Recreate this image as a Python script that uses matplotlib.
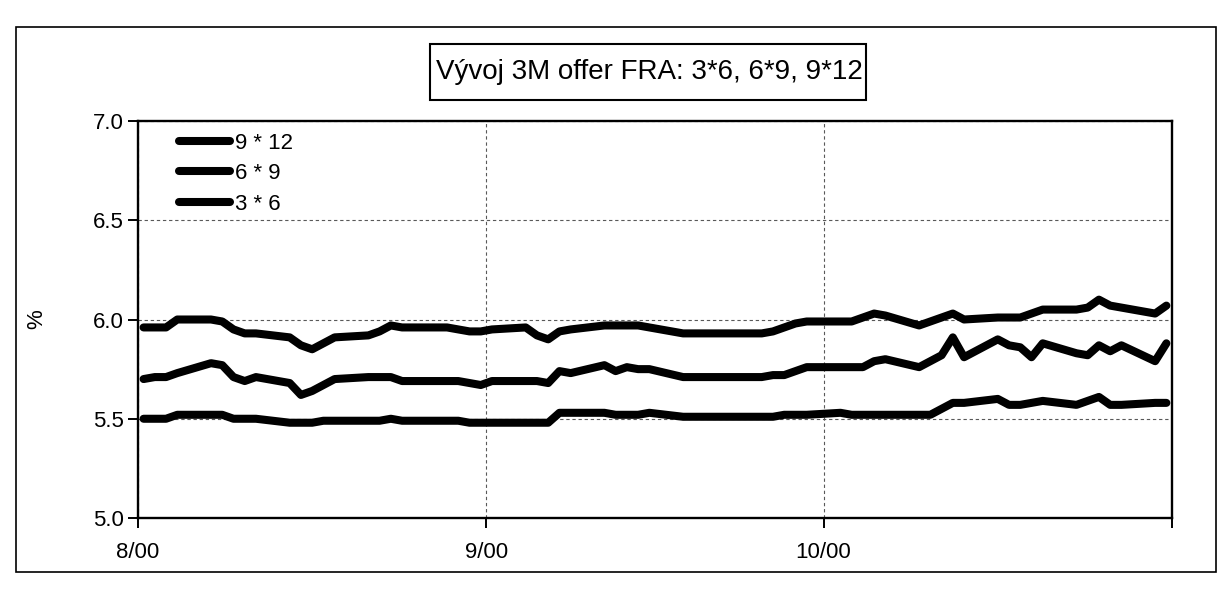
import matplotlib
matplotlib.use("Agg")
import matplotlib.pyplot as plt
from matplotlib.lines import Line2D
from matplotlib.patches import Rectangle
import pandas as pd

# trading days, Aug - Oct 2000
dates = [
    "2000-08-01", "2000-08-02", "2000-08-03", "2000-08-04", "2000-08-07",
    "2000-08-08", "2000-08-09", "2000-08-10", "2000-08-11", "2000-08-14",
    "2000-08-15", "2000-08-16", "2000-08-17", "2000-08-18", "2000-08-21",
    "2000-08-22", "2000-08-23", "2000-08-24", "2000-08-25", "2000-08-28",
    "2000-08-29", "2000-08-30", "2000-08-31",
    "2000-09-01", "2000-09-04", "2000-09-05", "2000-09-06", "2000-09-07",
    "2000-09-08", "2000-09-11", "2000-09-12", "2000-09-13", "2000-09-14",
    "2000-09-15", "2000-09-18", "2000-09-19", "2000-09-20", "2000-09-21",
    "2000-09-22", "2000-09-25", "2000-09-26", "2000-09-27", "2000-09-28",
    "2000-09-29",
    "2000-10-02", "2000-10-03", "2000-10-04", "2000-10-05", "2000-10-06",
    "2000-10-09", "2000-10-10", "2000-10-11", "2000-10-12", "2000-10-13",
    "2000-10-16", "2000-10-17", "2000-10-18", "2000-10-19", "2000-10-20",
    "2000-10-23", "2000-10-24", "2000-10-25", "2000-10-26", "2000-10-27",
    "2000-10-30", "2000-10-31",
]

# 3M offer FRA rates, %
fra_9x12 = [
    5.96, 5.96, 5.96, 6.00, 6.00, 5.99, 5.95, 5.93, 5.93, 5.91, 5.87, 5.85,
    5.88, 5.91, 5.92, 5.94, 5.97, 5.96, 5.96, 5.96, 5.95, 5.94, 5.94,
    5.95, 5.96, 5.92, 5.90, 5.94, 5.95, 5.97, 5.97, 5.97, 5.97, 5.96, 5.93,
    5.93, 5.93, 5.93, 5.93, 5.93, 5.94, 5.96, 5.98, 5.99,
    5.99, 5.99, 6.01, 6.03, 6.02, 5.97, 5.99, 6.01, 6.03, 6.00, 6.01, 6.01,
    6.01, 6.03, 6.05, 6.05, 6.06, 6.10, 6.07, 6.06, 6.03, 6.07,
]
fra_6x9 = [
    5.70, 5.71, 5.71, 5.73, 5.78, 5.77, 5.71, 5.69, 5.71, 5.68, 5.62, 5.64,
    5.67, 5.70, 5.71, 5.71, 5.71, 5.69, 5.69, 5.69, 5.69, 5.68, 5.67,
    5.69, 5.69, 5.69, 5.68, 5.74, 5.73, 5.77, 5.74, 5.76, 5.75, 5.75, 5.71,
    5.71, 5.71, 5.71, 5.71, 5.71, 5.72, 5.72, 5.74, 5.76,
    5.76, 5.76, 5.76, 5.79, 5.80, 5.76, 5.79, 5.82, 5.91, 5.81, 5.90, 5.87,
    5.86, 5.81, 5.88, 5.83, 5.82, 5.87, 5.84, 5.87, 5.79, 5.88,
]
fra_3x6 = [
    5.50, 5.50, 5.50, 5.52, 5.52, 5.52, 5.50, 5.50, 5.50, 5.48, 5.48, 5.48,
    5.49, 5.49, 5.49, 5.49, 5.50, 5.49, 5.49, 5.49, 5.49, 5.48, 5.48,
    5.48, 5.48, 5.48, 5.48, 5.53, 5.53, 5.53, 5.52, 5.52, 5.52, 5.53, 5.51,
    5.51, 5.51, 5.51, 5.51, 5.51, 5.51, 5.52, 5.52, 5.52,
    5.53, 5.52, 5.52, 5.52, 5.52, 5.52, 5.52, 5.55, 5.58, 5.58, 5.60, 5.57,
    5.57, 5.58, 5.59, 5.57, 5.59, 5.61, 5.57, 5.57, 5.58, 5.58,
]

series_labels = ["9 * 12", "6 * 9", "3 * 6"]
month_ticks = ["2000-08-01", "2000-09-01", "2000-10-01", "2000-11-01"]
month_labels = ["8/00", "9/00", "10/00", ""]
y_ticks = [5.0, 5.5, 6.0, 6.5, 7.0]
title = "Vývoj 3M offer FRA: 3*6, 6*9, 9*12"
y_label = "%"

plt.rcParams["font.family"] = ["Liberation Sans", "DejaVu Sans"]

fig = plt.figure(figsize=(12.23, 6.08), dpi=100)
fig.patch.set_facecolor("white")

# outer chart-area frame
fig.patches.append(Rectangle((0.013, 0.059), 0.981, 0.897, transform=fig.transFigure,
                             fill=False, ec="black", lw=1.2))

ax = fig.add_axes([0.1128, 0.148, 0.8455, 0.653])

# each day is one slot on the date axis; a value sits in the middle of its slot
x = pd.to_datetime(dates) + pd.Timedelta(hours=12)
line_kw = dict(color="black", lw=5.8, solid_joinstyle="round", solid_capstyle="round")
for vals in (fra_3x6, fra_6x9, fra_9x12):
    ax.plot(x, vals, **line_kw)

ax.set_xlim(pd.Timestamp(month_ticks[0]), pd.Timestamp(month_ticks[-1]))
ax.set_ylim(y_ticks[0], y_ticks[-1])
ax.set_xticks(pd.to_datetime(month_ticks))
ax.set_xticklabels(month_labels)
ax.set_yticks(y_ticks)
ax.set_yticklabels([f"{v:.1f}" for v in y_ticks])

ax.set_axisbelow(True)
ax.grid(True, color="0.35", lw=0.8, ls=(0, (3, 2.5)))

for sp in ax.spines.values():
    sp.set_linewidth(1.7)
    sp.set_color("black")

ax.tick_params(axis="both", direction="out", length=7, width=1.4,
               labelsize=16, colors="black")
ax.tick_params(axis="x", pad=10)
ax.tick_params(axis="y", pad=3)

ax.set_ylabel(y_label, fontsize=16)
ax.yaxis.set_label_coords(-0.088, 0.5)

handles = [Line2D([], [], **line_kw) for _ in series_labels]
ax.legend(handles, series_labels, loc="upper left", bbox_to_anchor=(0.04, 0.97),
          frameon=False, fontsize=16, handlelength=2.3, handletextpad=0.2,
          labelspacing=0.42, borderpad=0, borderaxespad=0)

# boxed chart title
fig.text(0.531, 0.881, title, ha="center", va="center", fontsize=20)
fig.patches.append(Rectangle((0.3516, 0.8355), 0.3564, 0.0921, transform=fig.transFigure,
                             fill=False, ec="black", lw=1.5))

fig.savefig("out.png", dpi=100)
